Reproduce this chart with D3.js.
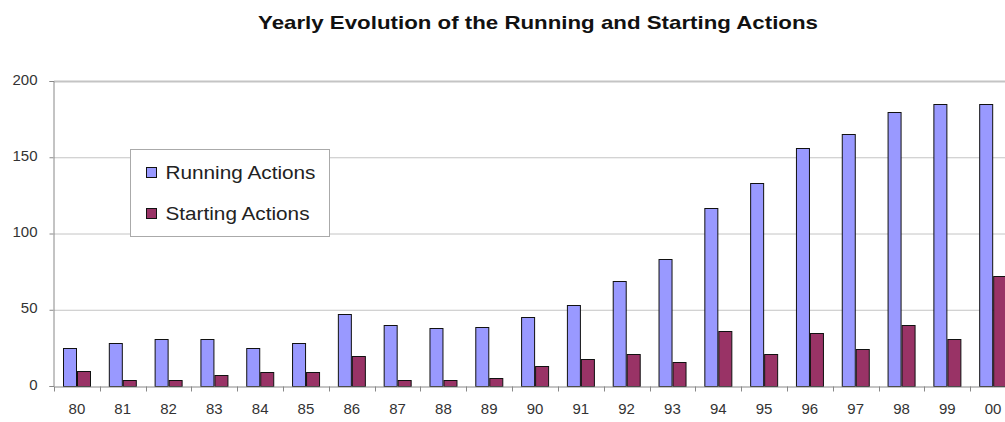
<!DOCTYPE html>
<html>
<head>
<meta charset="utf-8">
<script src="https://cdn.jsdelivr.net/npm/d3@7"></script>
<style>
  body { margin: 0; background: #fff; }
  text { font-family: "Liberation Sans", Arial, sans-serif; }
</style>
</head>
<body>
<div id="container"></div>
<script>
const WIDTH = 1005;
const HEIGHT = 422;

const years = ['80', '81', '82', '83', '84', '85', '86', '87', '88', '89', '90',
               '91', '92', '93', '94', '95', '96', '97', '98', '99', '00'];
const running = [25, 28, 31, 31, 25, 28, 47, 40, 38, 39, 45,
                 53, 69, 83, 117, 133, 156, 165, 180, 185, 185];
const starting = [10, 4, 4, 7, 9, 9, 20, 4, 4, 5, 13,
                  18, 21, 16, 36, 21, 35, 24, 40, 31, 72];
const seriesNames = ['Running Actions', 'Starting Actions'];
const seriesColors = ['#9999ff', '#993366'];
const yTicks = [0, 50, 100, 150, 200];

const dataset = years.map((y, i) => ({year: y, values: [running[i], starting[i]]}));

const svg = d3.select('#container')
              .append('svg')
                .attr('width', WIDTH)
                .attr('height', HEIGHT);

// plot area (runs past the right edge, as in the original)
const LEFT = 54, RIGHT = 1016, TOP = 81, BOTTOM = 386;

const xscale = d3.scaleBand().domain(years).range([LEFT, RIGHT]).paddingInner(0).paddingOuter(0);
const xsub = d3.scaleBand().domain([0, 1]).range([0, xscale.bandwidth()])
               .paddingInner(0).paddingOuter(0.7);
const yscale = d3.scaleLinear().domain([0, 200]).range([BOTTOM, TOP]);

// gridlines
svg.append('g')
   .selectAll('line')
   .data(yTicks.filter(d => d > 0))
   .enter()
   .append('line')
     .attr('x1', LEFT)
     .attr('x2', WIDTH)
     .attr('y1', d => yscale(d) + 0.5)
     .attr('y2', d => yscale(d) + 0.5)
     .attr('stroke', '#c4c4c4')
     .attr('stroke-width', d => d === 200 ? 2 : 1);

// title
svg.append('text')
   .attr('x', 258)
   .attr('y', 29)
   .attr('font-size', 19)
   .attr('font-weight', 'bold')
   .attr('fill', '#111')
   .attr('textLength', 560)
   .attr('lengthAdjust', 'spacingAndGlyphs')
   .text('Yearly Evolution of the Running and Starting Actions');

// bars
const groups = svg.append('g')
                  .selectAll('g')
                  .data(dataset)
                  .enter()
                  .append('g')
                    .attr('transform', d => `translate(${xscale(d.year)}, 0)`);

groups.selectAll('rect')
      .data(d => d.values.map((v, i) => ({v, i})))
      .enter()
      .append('rect')
        .attr('x', d => Math.round(xsub(d.i)) + 0.5)
        .attr('y', d => Math.round(yscale(d.v)) + 0.5)
        .attr('width', Math.round(xsub.bandwidth()))
        .attr('height', d => Math.round(yscale(0)) - Math.round(yscale(d.v)))
        .attr('fill', d => seriesColors[d.i])
        .attr('stroke', '#111')
        .attr('stroke-width', 1);

// y axis
const yAxis = svg.append('g')
                 .attr('transform', `translate(${LEFT - 0.5}, 0)`)
                 .call(d3.axisLeft(yscale).tickValues(yTicks).tickSize(4).tickPadding(12));
yAxis.select('.domain').attr('stroke', '#888');
yAxis.selectAll('.tick line').attr('stroke', '#888');
yAxis.selectAll('.tick text')
     .attr('font-size', 15)
     .attr('fill', '#333')
     .attr('dy', '0.2em')
     .attr('font-family', '"Liberation Sans", Arial, sans-serif');

// x axis
const xAxis = svg.append('g')
                 .attr('transform', `translate(0, ${BOTTOM + 0.5})`)
                 .call(d3.axisBottom(xscale).tickSize(0).tickPadding(17));
xAxis.select('.domain').attr('stroke', '#888');
xAxis.selectAll('.tick text')
     .attr('font-size', 15)
     .attr('fill', '#333')
     .attr('font-family', '"Liberation Sans", Arial, sans-serif');
xAxis.selectAll('.boundary')
     .data(years)
     .enter()
     .append('line')
       .attr('class', 'boundary')
       .attr('x1', d => Math.round(xscale(d)) + 0.5)
       .attr('x2', d => Math.round(xscale(d)) + 0.5)
       .attr('y1', 0)
       .attr('y2', 5)
       .attr('stroke', '#888');

// legend
const legend = svg.append('g').attr('transform', 'translate(130.5, 149.5)');
legend.append('rect')
      .attr('width', 199)
      .attr('height', 87)
      .attr('fill', '#fff')
      .attr('stroke', '#aaa');
seriesNames.forEach((name, i) => {
    legend.append('rect')
          .attr('x', 16)
          .attr('y', 18 + i * 41)
          .attr('width', 10)
          .attr('height', 10)
          .attr('fill', seriesColors[i])
          .attr('stroke', '#111');
    legend.append('text')
          .attr('x', 35)
          .attr('y', 29.5 + i * 41)
          .attr('font-size', 18)
          .attr('fill', '#222')
          .attr('textLength', i === 0 ? 150 : 144)
          .attr('lengthAdjust', 'spacingAndGlyphs')
          .text(name);
});
</script>
</body>
</html>
